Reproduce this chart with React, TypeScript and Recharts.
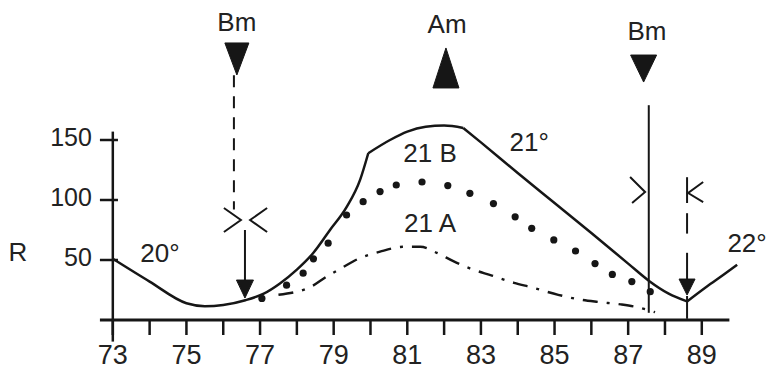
import React from 'react';
import { LineChart, Line, XAxis, YAxis, ReferenceLine, ReferenceDot } from 'recharts';

// ---- data (years 19xx, R values) ----
const solidYears = [73, 74, 75, 75.5, 76, 76.6, 77.1, 77.54, 78.0, 78.45, 78.9, 79.35, 79.72, 79.94, 80.53, 81, 81.5, 82, 82.52, 83, 84, 85, 86, 87, 87.55, 88.1, 88.6, 89.14, 89.58, 89.96];
const solidR = [51, 32, 14, 11.5, 12.5, 16.5, 22, 30.5, 42, 56, 75, 94, 117, 139, 150, 157, 161, 162, 160, 148, 122.5, 97.5, 72.5, 47, 33, 22, 15.5, 28, 37.5, 46];
// years where the solid curve has a corner (20° / 21° / 22° sections)
const solidBreaks = [79.94, 82.52, 88.6];

const b21Years = [77.05, 77.72, 78.17, 78.45, 78.85, 79.35, 79.8, 80.26, 80.7, 81.4, 82.1, 82.7, 83.34, 83.93, 84.38, 84.98, 85.57, 86.1, 86.57, 87.1, 87.6];
const b21R = [18, 29, 39, 51, 64, 87.5, 98.6, 107, 112.5, 115, 112, 105.6, 97, 86, 76.4, 66.7, 57.5, 47, 38, 32, 23.6];

const a21Years = [77.5, 78.4, 78.8, 79.2, 79.6, 80.26, 80.9, 81.35, 81.8, 82.25, 82.7, 83.3, 83.9, 84.4, 85.1, 85.7, 86.2, 86.8, 87.2, 87.73];
const a21R = [21, 28, 36, 43, 50, 57, 61, 61, 56, 49, 43, 37, 31, 27, 21, 17, 15, 13, 11, 6.5];

const xTicks = [73, 74, 75, 76, 77, 78, 79, 80, 81, 82, 83, 84, 85, 86, 87, 88, 89];
const yTicks = [50, 100, 150];
const yTickLabels = ['50', '100', '150'];

// annotation texts (data coordinates)
const textLabels = [
  { text: 'Bm', x: 76.37, r: 248.3 },
  { text: 'Am', x: 82.08, r: 246.7 },
  { text: 'Bm', x: 87.51, r: 240.8 },
  { text: 'R', x: 70.42, r: 56.7 },
  { text: '20°', x: 74.28, r: 55.8 },
  { text: '21 B', x: 81.62, r: 139 },
  { text: '21 A', x: 81.62, r: 80.8 },
  { text: '21°', x: 84.31, r: 148.3 },
  { text: '22°', x: 90.23, r: 64.2 },
];

const toPts = (xs: number[], rs: number[]) => xs.map((x, i) => ({ x, r: rs[i] }));
const solidData = toPts(solidYears, solidR);
const solidSegments = (() => {
  const bounds = [solidYears[0], ...solidBreaks, solidYears[solidYears.length - 1]];
  const segs: { x: number; r: number }[][] = [];
  for (let i = 0; i < bounds.length - 1; i++) {
    segs.push(solidData.filter((p) => p.x >= bounds[i] && p.x <= bounds[i + 1]));
  }
  return segs;
})();
const b21Data = toPts(b21Years, b21R);
const a21Data = toPts(a21Years, a21R);

const INK = '#161616';
const TEXT = '#222';

const polyShape = (pts: number[][], filled: boolean, sw = 2) => (props: any) => {
  const { cx, cy } = props;
  if (cx == null || cy == null) return null;
  const p = pts.map(([dx, dy]) => `${cx + dx},${cy + dy}`).join(' ');
  return filled ? (
    <polygon points={p} fill={INK} stroke={INK} strokeWidth={1} strokeLinejoin="round" />
  ) : (
    <polyline points={p} fill="none" stroke={INK} strokeWidth={sw} strokeLinejoin="miter" />
  );
};

const downTri = (w: number, h: number) => polyShape([[-w / 2, -h], [w / 2, -h], [0, 0]], true);
const upTri = (w: number, h: number) => polyShape([[0, 0], [-w / 2, h], [w / 2, h]], true);

export default function App() {
  return (
    <div style={{ position: 'absolute', left: 0, top: 0, width: 768, height: 371, background: '#fff', fontFamily: '"Liberation Sans", Arial, sans-serif' }}>
      <LineChart width={768} height={371} margin={{ top: 20, right: 11, left: 76, bottom: 0 }}>
        <XAxis
          type="number"
          dataKey="x"
          domain={[72, 90.5]}
          allowDataOverflow
          ticks={xTicks}
          interval={0}
          tickFormatter={(v: number) => (v % 2 === 1 ? String(v) : '')}
          axisLine={false}
          tickLine={{ stroke: INK, strokeWidth: 2.5 }}
          tickSize={15}
          tickMargin={10}
          height={51}
          tick={{ fill: TEXT, fontSize: 27 }}
        />
        <YAxis hide domain={[0, 250]} allowDataOverflow />

        {/* axes lines */}
        <ReferenceLine segment={[{ x: 72.65, y: 0 }, { x: 89.75, y: 0 }]} stroke={INK} strokeWidth={3} ifOverflow="visible" />
        <ReferenceLine segment={[{ x: 73, y: -18 }, { x: 73, y: 157 }]} stroke={INK} strokeWidth={2.5} ifOverflow="visible" />
        {yTicks.map((t, i) => (
          <ReferenceLine
            key={'yt' + t}
            segment={[{ x: 72.65, y: t }, { x: 73.14, y: t }]}
            stroke={INK}
            strokeWidth={2.5}
            ifOverflow="visible"
            label={{ value: yTickLabels[i], position: 'left', offset: 8, fontSize: 25, fill: TEXT, dy: -3 }}
          />
        ))}

        {/* series */}
        {solidSegments.map((seg, i) => (
          <Line key={'s' + i} data={seg} dataKey="r" type="monotone" stroke={INK} strokeWidth={2.5} dot={false} isAnimationActive={false} />
        ))}
        <Line data={b21Data} dataKey="r" type="monotone" stroke="none" dot={{ r: 3.6, fill: INK, stroke: 'none' }} isAnimationActive={false} />
        <Line data={a21Data} dataKey="r" type="monotone" stroke={INK} strokeWidth={2.4} strokeDasharray="15 9 3 9" dot={false} isAnimationActive={false} />

        {/* left Bm marker */}
        <ReferenceDot x={76.37} y={204.2} r={0} ifOverflow="visible" shape={downTri(24, 32)} />
        <ReferenceLine segment={[{ x: 76.29, y: 204 }, { x: 76.29, y: 92 }]} stroke={INK} strokeWidth={2} strokeDasharray="12 9" ifOverflow="visible" />
        <ReferenceDot x={76.48} y={83.3} r={0} ifOverflow="visible" shape={polyShape([[-17, -12], [0, 0], [-17, 12]], false)} />
        <ReferenceDot x={76.73} y={83.3} r={0} ifOverflow="visible" shape={polyShape([[17, -12], [0, 0], [17, 12]], false)} />
        <ReferenceLine segment={[{ x: 76.59, y: 75 }, { x: 76.59, y: 30 }]} stroke={INK} strokeWidth={2} ifOverflow="visible" />
        <ReferenceDot x={76.59} y={18.3} r={0} ifOverflow="visible" shape={downTri(17, 18)} />

        {/* Am marker */}
        <ReferenceDot x={82.05} y={226.7} r={0} ifOverflow="visible" shape={upTri(26, 40)} />

        {/* right Bm marker */}
        <ReferenceDot x={87.42} y={198.3} r={0} ifOverflow="visible" shape={downTri(26, 27)} />
        <ReferenceLine segment={[{ x: 87.56, y: 179 }, { x: 87.56, y: 6 }]} stroke={INK} strokeWidth={2} ifOverflow="visible" />
        <ReferenceDot x={87.46} y={106.7} r={0} ifOverflow="visible" shape={polyShape([[-15, -15], [0, 0], [-13, 11]], false)} />

        {/* right k marker */}
        <ReferenceLine segment={[{ x: 88.6, y: 119 }, { x: 88.6, y: 97.5 }]} stroke={INK} strokeWidth={2} ifOverflow="visible" />
        <ReferenceDot x={88.63} y={105.8} r={0} ifOverflow="visible" shape={polyShape([[15, -11], [0, 0], [15, 9]], false)} />
        <ReferenceLine segment={[{ x: 88.6, y: 89 }, { x: 88.6, y: 72 }]} stroke={INK} strokeWidth={2} ifOverflow="visible" />
        <ReferenceLine segment={[{ x: 88.6, y: 56 }, { x: 88.6, y: 30 }]} stroke={INK} strokeWidth={2} ifOverflow="visible" />
        <ReferenceDot x={88.6} y={20.8} r={0} ifOverflow="visible" shape={downTri(16, 16)} />
        <ReferenceLine segment={[{ x: 88.6, y: 20 }, { x: 88.6, y: 1 }]} stroke={INK} strokeWidth={2} ifOverflow="visible" />

        {/* text annotations */}
        {textLabels.map((t, i) => (
          <ReferenceDot
            key={'tl' + i}
            x={t.x}
            y={t.r}
            r={0}
            stroke="none"
            ifOverflow="visible"
            label={{ value: t.text, position: 'center', fontSize: 26, fill: TEXT }}
          />
        ))}
      </LineChart>
    </div>
  );
}
